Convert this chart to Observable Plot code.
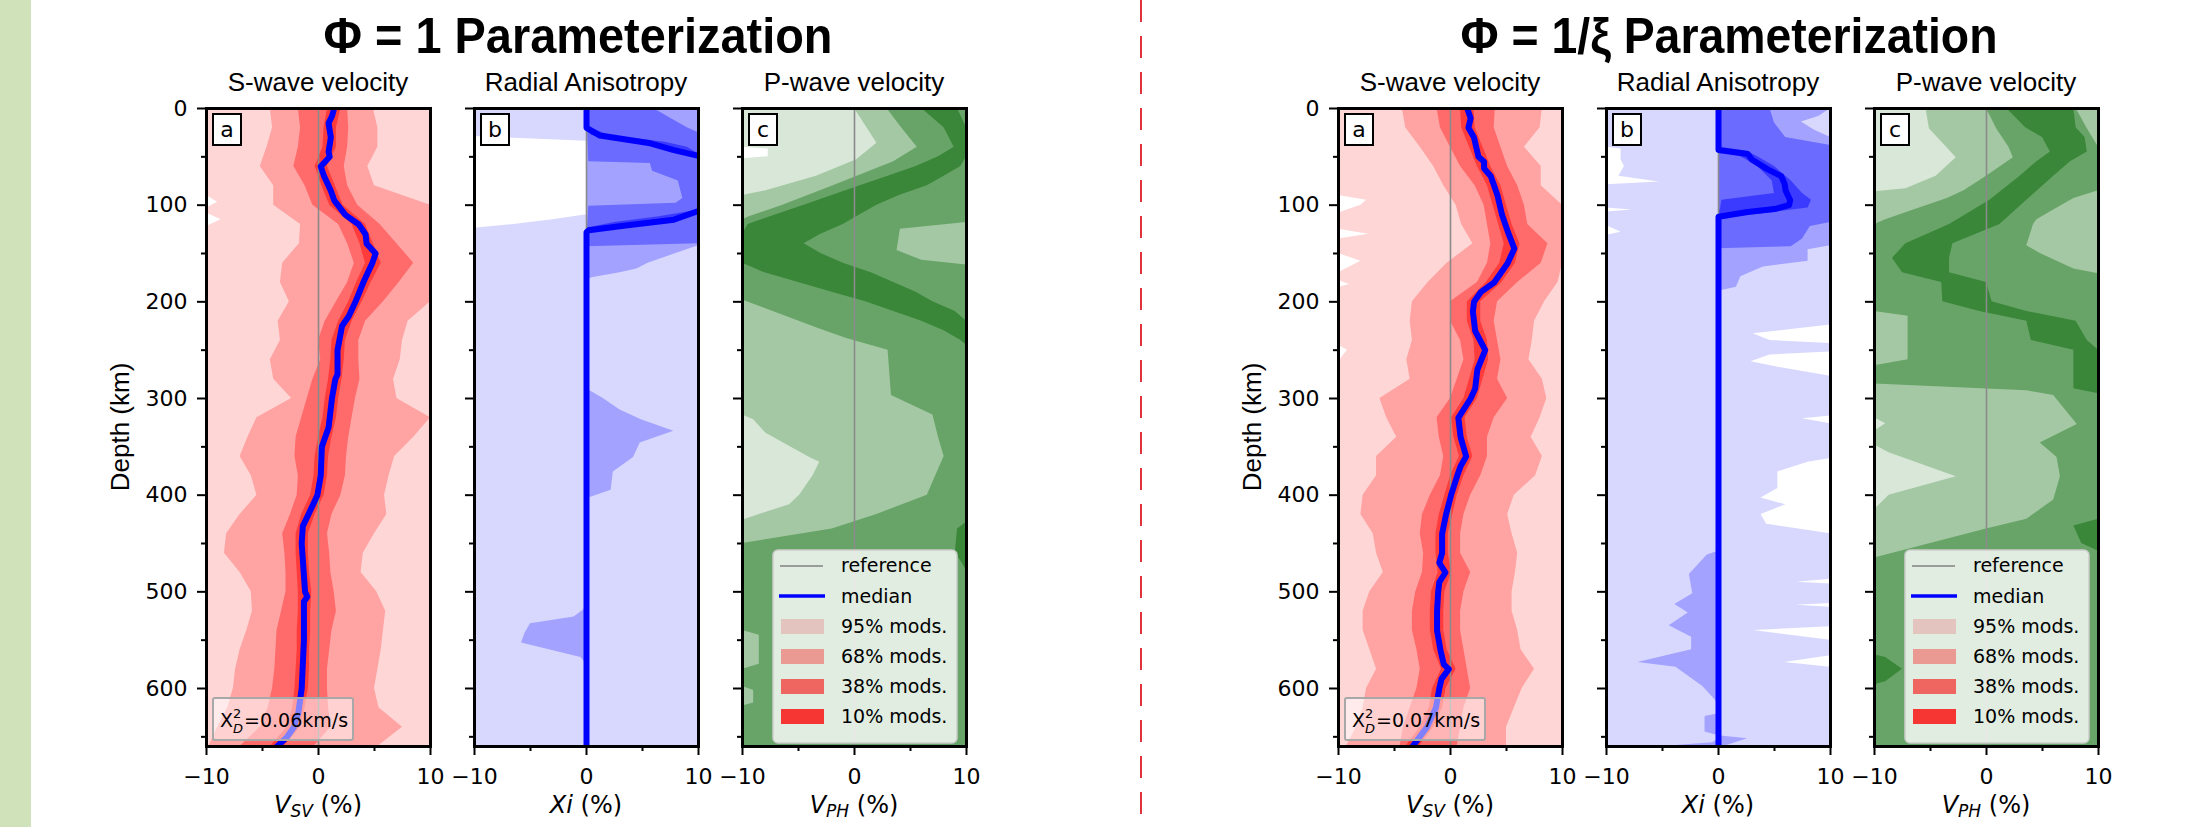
<!DOCTYPE html>
<html>
<head>
<meta charset="utf-8">
<script src="https://cdn.jsdelivr.net/npm/d3@7"></script>
<script src="https://cdn.jsdelivr.net/npm/@observablehq/plot@0.6"></script>
<style>
html, body { margin: 0; padding: 0; background: #fff; }
#page { position: relative; width: 2203px; height: 827px; overflow: hidden; background: #fff; }
#page svg { position: absolute; }
</style>
</head>
<body>
<div id="page"></div>
<script>
// ---------------- DATA ----------------
const depthV = [0,20,40,60,80,100,120,140,160,180,200,220,240,260,280,300,320,340,360,380,400,420,440,460,480,500,520,540,560,580,600,620,640,660];

// Phi = 1 : S-wave velocity (%)
const sv1Median = [[0,1.4],[8,1.2],[15,0.9],[30,1.1],[45,0.9],[50,1.0],[60,0.2],[70,0.5],[85,1.1],[95,1.4],[110,2.4],[120,3.6],[130,4.2],[140,4.3],[150,5.1],[160,4.8],[170,4.4],[180,4.0],[200,3.3],[215,2.7],[225,2.1],[250,1.7],[275,1.7],[280,1.5],[300,1.2],[330,0.9],[350,0.3],[380,0.2],[400,-0.1],[420,-0.9],[432,-1.4],[450,-1.5],[500,-1.2],[505,-1.0],[510,-1.3],[550,-1.3],[600,-1.5],[625,-1.8],[640,-2.2],[650,-2.8],[660,-3.7]];
const sv1Band95 = [[0,-10,10],[90,-10,10],[97,-9.0,10],[103,-10,10],[108,-10,10],[115,-8.7,10],[122,-10,10],[660,-10,10]];
const sv1Lo68 = [-4.3,-4.1,-4.6,-5.2,-4.0,-4.0,-1.6,-1.7,-3.2,-3.4,-2.6,-3.6,-3.4,-4.3,-4.0,-2.4,-5.5,-6.3,-7.0,-6.0,-5.5,-7.0,-8.2,-8.4,-7.0,-6.0,-5.9,-6.4,-7.0,-7.4,-7.6,-8.1,-9.0,-9.8];
const sv1Hi68 = [4.9,5.3,5.3,4.4,5.0,10,10,10,10,10,10,8.0,7.5,7.3,6.7,7.0,10,8.5,6.8,6.3,5.9,6.1,5.0,4.0,3.8,5.2,6.0,5.8,5.6,5.3,5.0,5.4,7.5,5.3];
const sv1Lo38 = [-1.8,-1.6,-1.8,-2.2,-1.2,-0.5,1.8,2.6,3.2,2.6,1.6,0.6,0.0,0.2,-0.5,-1.0,-1.5,-2.0,-2.1,-1.8,-1.9,-2.5,-3.2,-3.0,-2.9,-2.9,-3.3,-3.7,-3.8,-3.9,-4.1,-4.5,-5.2,-7.0];
const sv1Hi38 = [2.6,2.7,2.6,2.3,2.6,3.5,5.5,7.0,8.5,7.2,5.8,4.2,3.6,3.6,3.7,3.3,3.0,2.7,2.5,2.4,2.0,1.2,0.8,1.0,1.1,1.4,1.6,1.2,1.0,0.8,0.8,0.9,1.1,-0.4];
const sv1Lo10 = [0.8,0.5,0.4,-0.3,0.3,1.0,3.0,3.7,4.2,3.4,2.7,1.8,1.2,1.1,0.9,0.6,0.4,0.0,-0.3,-0.4,-0.7,-1.5,-2.0,-2.0,-1.9,-1.8,-1.8,-1.9,-1.9,-2.0,-2.1,-2.3,-2.8,-4.3];
const sv1Hi10 = [2.0,1.6,1.6,0.8,1.5,2.2,4.2,4.9,5.6,4.7,3.9,3.0,2.4,2.3,2.1,1.8,1.6,1.2,0.9,0.8,0.5,-0.3,-0.9,-0.9,-0.8,-0.6,-0.7,-0.7,-0.8,-0.8,-0.9,-1.2,-1.6,-3.1];

// Phi = 1 : radial anisotropy Xi (%)  [depth, lo, hi]
const xi1Median = [[0,0],[20,0],[28,1.2],[36,5.7],[43,7.8],[49,10],[52,11],[103,11],[106,10],[115,7.8],[121,3.5],[126,0.2],[128,0],[660,0]];
const xi1Band95 = [[0,-10,10],[29,-10,10],[34,0,10],[110,0,10],[115,-3,10],[120,-6.5,10],[124,-10,10],[660,-10,10]];
const xi1Band68 = [[0,0,10],[142,0,10],[150,0,8],[160,0,5.5],[166,0,4.5],[170,0,3],[175,0,0.5],[178,0,0],[290,0,0],[300,0,1.5],[312,0,3.0],[322,0,4.9],[334,0,7.8],[346,0,4.8],[361,0,4.2],[376,0,2.4],[395,0,2.2],[403,0,0.2],[405,0,0],[515,0,0],[519,-0.3,0],[526,-1.1,0],[533,-5.0,0],[543,-5.5,0],[553,-5.8,0],[568,-0.5,0],[575,0,0],[660,0,0]];
const xi1Band38 = [[0,0,6],[10,0,7.5],[20,0,9],[25,0.1,10],[55,0.2,10],[57,5.7,10],[65,5.9,10],[75,8.2,10],[93,8.6,10],[98,8.0,10],[101,0.2,10],[140,0,10],[143,0,0],[660,0,0]];
const xi1Band10 = [[18,0,0],[22,0,0.8],[28,0.5,2.0],[35,4.5,7.0],[40,6.5,9.0],[47,9,10],[50,10,10],[105,10,10],[108,8.5,10],[112,6.5,9],[118,2.5,5.5],[124,0,1.5],[127,0,0]];

// Phi = 1 : P-wave velocity (%)
const vp1Band95 = [[0,-10,10],[40,-10,10],[42,-7.7,10],[50,-7.7,10],[52,-10,10],[660,-10,10]];
const vp1Band68 = [[0,0,10],[36,2.0,10],[53,0.2,10],[70,-3.4,10],[85,-7.9,10],[90,-10,10],[317,-10,10],[322,-9,10],[336,-7.9,10],[361,-4,10],[366,-3.1,10],[380,-3.7,10],[400,-4.9,10],[410,-5.8,10],[420,-8.5,10],[426,-10,10],[660,-10,10]];
const vp1Band38 = [[0,2.9,10],[20,4.2,10],[40,5.6,10],[55,3.5,10],[80,-1.9,10],[100,-6.4,10],[112,-9.4,10],[115,-10,10],[118,-10,10],[125,-10,4.1],[147,-10,3.8],[157,-10,6],[162,-10,10],[198,-10,10],[228,-3.1,10],[238,-0.7,10],[250,3.0,10],[297,3.3,10],[317,7.0,10],[340,7.5,10],[360,8.0,10],[400,6.5,10],[420,2.0,10],[435,-2,10],[450,-10,10],[540,-10,10],[545,-8.5,10],[575,-8.5,10],[580,-10,10],[598,-10,10],[602,-9,10],[615,-9,10],[618,-10,10],[660,-10,10]];
const vp1Band10 = [[0,6.0,9.2],[20,8.0,10],[40,8.9,10],[50,7.5,10],[60,5.5,9.5],[70,3.0,8.0],[80,0.5,6.5],[90,-2.0,4.0],[100,-4.5,2.0],[110,-7.0,0.5],[120,-9.5,-1.0],[130,-10,-3.0],[140,-10,-4.5],[150,-10,-3.0],[160,-10,-1.0],[170,-8,1.5],[180,-5,3.5],[190,-2,5.5],[200,1,7],[210,3.5,9],[220,6,10],[230,8,10],[240,9.5,10],[245,10,10],[428,10,10],[435,9.2,10],[460,9.0,10],[470,9.6,10],[478,10,10]];

// Phi = 1/xi : S-wave velocity (%)
const sv2Median = [[0,1.5],[10,1.8],[20,1.6],[30,2.1],[50,2.5],[55,3.0],[62,3.0],[70,3.6],[90,4.2],[110,4.6],[130,5.2],[145,5.7],[160,5.1],[180,3.9],[190,2.7],[200,2.1],[210,2.0],[230,2.2],[250,3.1],[270,2.4],[290,2.2],[300,1.8],[320,0.7],[340,0.9],[360,1.4],[370,0.9],[380,0.6],[400,0.05],[420,-0.4],[440,-0.75],[460,-0.75],[470,-1.0],[480,-0.45],[490,-1.0],[500,-1.1],[520,-1.2],[540,-1.2],[560,-0.9],[575,-0.6],[580,-0.15],[590,-0.8],[600,-1.0],[620,-1.3],[640,-2.1],[660,-3.4]];
const sv2Band95 = [[0,-10,10],[90,-10,10],[95,-7.5,10],[100,-8.0,10],[108,-10,10],[125,-10,10],[130,-7.3,10],[135,-10,10],[150,-10,10],[158,-8.0,10],[170,-10,10],[178,-10,10],[182,-9.0,10],[185,-10,10],[245,-10,10],[250,-9.2,10],[262,-10,10],[660,-10,10]];
const sv2Lo68 = [-4.3,-4.0,-2.7,-1.5,-0.6,0.5,1.0,2.0,-0.3,-2.0,-3.4,-3.6,-3.4,-3.9,-3.6,-6.3,-5.7,-4.8,-6.6,-6.6,-7.8,-8.0,-6.9,-6.6,-6.0,-7.2,-7.8,-7.8,-7.2,-6.6,-7.5,-7.8,-8.4,-9.3];
const sv2Hi68 = [8.2,8.0,6.6,8.1,8.1,10,10,10,10,9.6,8.4,7.5,7.3,7.0,8.2,8.6,8.0,7.2,8.2,7.6,5.7,5.1,5.5,6.0,5.8,5.5,5.5,6.0,6.3,7.5,6.4,5.7,5.0,5.0];
const sv2Lo38 = [-1.2,-0.9,0.0,0.9,2.2,3.0,3.3,3.6,3.3,2.4,0.0,0.0,0.9,1.2,0.6,0.0,-1.2,-1.0,-0.6,-0.9,-1.8,-2.5,-2.7,-2.4,-2.5,-3.1,-3.4,-3.4,-3.0,-2.7,-3.0,-3.6,-4.2,-4.5];
const sv2Hi38 = [4.0,3.9,4.5,5.1,6.0,6.6,6.9,8.7,8.1,6.0,4.2,3.9,4.2,4.5,4.2,5.1,3.9,3.3,3.3,2.7,1.8,1.2,0.9,0.9,1.8,1.2,0.9,0.9,1.2,1.5,1.8,1.2,0.9,0.6];
const sv2Lo10 = [0.9,1.0,1.7,2.4,3.3,3.8,4.3,4.8,4.4,3.2,1.5,1.5,2.1,2.2,1.7,1.2,0.1,0.3,0.8,0.0,-0.5,-1.0,-1.3,-1.3,-1.1,-1.7,-1.8,-1.8,-1.5,-0.8,-1.6,-1.9,-2.7,-4.0];
const sv2Hi10 = [2.1,2.2,2.9,3.6,4.5,5.0,5.5,6.2,5.8,4.6,2.7,2.7,3.3,3.4,2.9,2.4,1.3,1.5,2.0,1.2,0.6,0.2,-0.2,-0.2,0.1,-0.5,-0.6,-0.6,-0.3,0.5,-0.4,-0.7,-1.5,-2.8];

// Phi = 1/xi : radial anisotropy Xi (%)
const xi2Median = [[0,0],[43,0],[47,2.6],[53,3.0],[63,4.4],[70,5.6],[78,5.9],[85,6.0],[95,6.4],[100,6.3],[104,5.0],[107,2.6],[112,0],[660,0]];
const xi2Band95 = [[0,-10,10],[40,-10,10],[42,-8.7,10],[53,-8.7,10],[60,-8.4,10],[70,-8.9,10],[76,-5.3,10],[79,-10,10],[103,-10,10],[105,-7.7,10],[107,-10,10],[121,-10,10],[128,-8.7,10],[131,-10,10],[224,-10,10],[233,-10,3.1],[240,-10,4.6],[243,-10,10],[252,-10,10],[255,-10,4.6],[262,-10,2.9],[267,-10,5.0],[277,-10,10],[318,-10,10],[321,-10,7.5],[326,-10,10],[362,-10,10],[366,-10,8.0],[376,-10,5.3],[393,-10,5.3],[403,-10,3.8],[410,-10,6.0],[420,-10,3.8],[430,-10,4.3],[440,-10,10],[487,-10,10],[490,-10,7.0],[492,-10,10],[512,-10,10],[514,-10,6.9],[516,-10,10],[536,-10,10],[540,-10,3.1],[550,-10,10],[566,-10,10],[573,-10,5.9],[578,-10,10],[660,-10,10]];
const xi2Band68 = [[0,0,10],[8,0,9],[14,0,7.4],[22,0,8.5],[30,0,10],[142,0,10],[146,0,8],[158,0,8],[164,0,4],[174,0,2],[185,0,1.6],[189,0,0],[458,0,0],[462,-1.0,0],[482,-2.6,0],[502,-2.3,0],[513,-3.9,0],[522,-2.7,0],[535,-4.4,0],[547,-2.4,0],[560,-2.4,0],[573,-7.2,0],[578,-3.8,0],[598,-1.4,0],[612,-0.3,0],[617,0,0],[626,0,0],[629,-1.2,0],[645,-1.2,0],[649,0,0],[652,0,2.6],[656,-0.5,1.5],[660,-5,0.5]];
const xi2Band38 = [[0,0,4.6],[15,0,5.0],[30,0,6.0],[38,0,9.9],[40,0,10],[118,0,10],[122,0,8.2],[135,0,7.5],[143,0,6.5],[145,0,0],[660,0,0]];
const xi2Band10 = [[40,0,0],[44,0,2.5],[50,2.0,3.5],[60,3.5,5.0],[75,4.8,6.5],[88,5.0,7.5],[95,0.3,8.3],[103,0.2,8.0],[108,0,4.5],[113,0,0.5],[115,0,0]];

// Phi = 1/xi : P-wave velocity (%)
const vp2Band95 = [[0,-10,10],[660,-10,10]];
const vp2Band68 = [[0,-5.4,10],[21,-5.1,10],[51,-2.7,10],[70,-4.5,10],[83,-7.2,10],[86,-10,10],[320,-10,10],[326,-9,10],[334,-10,10],[348,-10,10],[356,-8.7,10],[381,-2.7,10],[400,-8.7,10],[415,-10,10],[660,-10,10]];
const vp2Band38 = [[0,0,8.0],[21,0.9,9.0],[40,2.0,10],[51,2.4,10],[70,0,10],[85,-2.0,10],[93,-3.5,7.8],[105,-6.5,6.0],[115,-9,4.5],[120,-10,4.2],[142,-10,3.6],[150,-10,4.8],[166,-10,7.8],[171,-10,10],[210,-10,10],[215,-7,10],[260,-7,10],[266,-10,10],[285,-10,10],[292,3.6,10],[297,6,10],[327,8.1,10],[346,4.8,10],[361,6.3,10],[381,6.6,10],[405,6.0,10],[425,3.6,10],[435,0,10],[465,-10,10],[660,-10,10]];
const vp2Band10 = [[0,1.8,7.8],[20,3.5,8.0],[30,5.0,8.8],[45,5.7,9.0],[55,4.5,7.5],[70,3.0,6.0],[95,0.3,3.6],[120,-3.3,1.2],[140,-7.2,-3.0],[155,-8.4,-3.3],[170,-7.5,-3.3],[180,-4.0,0],[200,-3.9,0.5],[210,-0.6,3.6],[220,3.6,8.0],[240,4.0,9.0],[250,7.8,10],[290,7.8,10],[295,10,10],[425,10,10],[432,7.8,10],[450,8.5,10],[458,10,10],[565,-10,-10],[568,-10,-9],[580,-10,-7.5],[593,-10,-9],[596,-10,-10],[660,-10,-10]];

// colours of the 95 / 68 / 38 / 10 % bands
const RED = ["#ffd6d6", "#ffa3a3", "#ff6b6b", "#ff3b3b"];
const BLUE = ["#d8d8ff", "#a3a3ff", "#6b6bff", "#3b3bff"];
const GREEN = ["#d9e7d9", "#a4c8a4", "#68a468", "#3a873a"];
const LEGEND_SWATCH = ["#e4c4be", "#ea9a93", "#ef6560", "#f53633"];
const LEGEND_LABELS = ["95% mods.", "68% mods.", "38% mods.", "10% mods."];

// ---------------- LAYOUT ----------------
const page = document.getElementById("page");
const TOP = 108, FW = 224, FH = 638;
const HALF = 1132;
const PX = [206, 474, 742];

const tri = (lo, hi) => depthV.map((d, i) => [d, lo[i], hi[i]]);
const fmt = d => d < 0 ? "\u2212" + (-d) : String(d);

function panel(x0, layers, median, showY) {
  const ml = 80, mr = 24, mt = 8, mb = 52;
  const marks = [];
  for (const [data, fill] of layers) {
    marks.push(Plot.areaX(data, {y: d => d[0], x1: d => d[1], x2: d => d[2], fill, clip: true}));
  }
  marks.push(Plot.ruleX([0], {stroke: "#8a8a8a", strokeWidth: 1.6, clip: true}));
  if (median) marks.push(Plot.lineX(median, {x: d => d[1], y: d => d[0], stroke: "#0000ff", strokeWidth: 6, clip: true}));
  marks.push(Plot.axisX({ticks: [-10, 0, 10], tickSize: 9, tickPadding: 13, strokeWidth: 2, fontSize: 22, label: null, tickFormat: fmt}));
  marks.push(Plot.axisX({ticks: [-5, 5], tickSize: 5, strokeWidth: 2, label: null, tickFormat: () => ""}));
  marks.push(Plot.axisY({ticks: d3.range(0, 601, 100), tickSize: 9, tickPadding: 10, strokeWidth: 2, fontSize: 22, label: null, tickFormat: showY ? (d => String(d)) : (() => "")}));
  marks.push(Plot.axisY({ticks: d3.range(50, 651, 100), tickSize: 5, strokeWidth: 2, label: null, tickFormat: () => ""}));
  marks.push(Plot.frame({stroke: "#000", strokeWidth: 3}));
  const svg = Plot.plot({
    width: FW + ml + mr, height: FH + mt + mb,
    marginLeft: ml, marginRight: mr, marginTop: mt, marginBottom: mb,
    x: {domain: [-10, 10]},
    y: {domain: [0, 660], reverse: true},
    style: {fontFamily: "DejaVu Sans", fontSize: "22px", background: "transparent", overflow: "visible", color: "#000"},
    marks
  });
  svg.style.position = "absolute";
  svg.style.left = (x0 - ml) + "px";
  svg.style.top = (TOP - mt) + "px";
  page.appendChild(svg);
}

function bandsV(b95, lo68, hi68, lo38, hi38, lo10, hi10, C) {
  return [[b95, C[0]], [tri(lo68, hi68), C[1]], [tri(lo38, hi38), C[2]], [tri(lo10, hi10), C[3]]];
}

// background decorations
const strip = document.createElement("div");
Object.assign(strip.style, {position: "absolute", left: "0px", top: "0px", width: "31px", height: "827px", background: "#d0e2b9"});
page.appendChild(strip);

// left half (Phi = 1)
panel(PX[0], bandsV(sv1Band95, sv1Lo68, sv1Hi68, sv1Lo38, sv1Hi38, sv1Lo10, sv1Hi10, RED), sv1Median, true);
panel(PX[1], [[xi1Band95, BLUE[0]], [xi1Band68, BLUE[1]], [xi1Band38, BLUE[2]], [xi1Band10, BLUE[3]]], xi1Median, false);
panel(PX[2], [[vp1Band95, GREEN[0]], [vp1Band68, GREEN[1]], [vp1Band38, GREEN[2]], [vp1Band10, GREEN[3]]], null, false);
// right half (Phi = 1/xi)
panel(PX[0] + HALF, bandsV(sv2Band95, sv2Lo68, sv2Hi68, sv2Lo38, sv2Hi38, sv2Lo10, sv2Hi10, RED), sv2Median, true);
panel(PX[1] + HALF, [[xi2Band95, BLUE[0]], [xi2Band68, BLUE[1]], [xi2Band38, BLUE[2]], [xi2Band10, BLUE[3]]], xi2Median, false);
panel(PX[2] + HALF, [[vp2Band95, GREEN[0]], [vp2Band68, GREEN[1]], [vp2Band38, GREEN[2]], [vp2Band10, GREEN[3]]], null, false);

// ---------------- TEXT OVERLAY ----------------
function half(ox, title, titleX, titleW, chi) {
  const p = PX.map(v => v + ox);
  const subs = ["S-wave velocity", "Radial Anisotropy", "P-wave velocity"];
  const letters = ["a", "b", "c"];
  const xl = [
    `<tspan font-style="italic">V</tspan><tspan font-style="italic" font-size="17" dy="4">SV</tspan><tspan dy="-4"> (%)</tspan>`,
    `<tspan font-style="italic">Xi</tspan><tspan> (%)</tspan>`,
    `<tspan font-style="italic">V</tspan><tspan font-style="italic" font-size="17" dy="4">PH</tspan><tspan dy="-4"> (%)</tspan>`
  ];
  let s = `<text x="${titleX}" y="53" text-anchor="middle" font-family="Liberation Sans" font-weight="bold" font-size="50" textLength="${titleW}" lengthAdjust="spacingAndGlyphs">${title}</text>`;
  s += `<text transform="translate(${129 + ox},427) rotate(-90)" text-anchor="middle" font-family="Liberation Sans" font-size="26">Depth (km)</text>`;
  p.forEach((x, i) => {
    s += `<text x="${x + 112}" y="91" text-anchor="middle" font-family="Liberation Sans" font-size="26">${subs[i]}</text>`;
    s += `<text x="${x + 112}" y="813" text-anchor="middle" font-family="DejaVu Sans" font-size="24">${xl[i]}</text>`;
    s += `<rect x="${x + 7}" y="114" width="28" height="31" fill="#fff" stroke="#000" stroke-width="2"/>`;
    s += `<text x="${x + 21}" y="137" text-anchor="middle" font-family="DejaVu Sans" font-size="22">${letters[i]}</text>`;
  });
  // chi box
  const a = p[0];
  s += `<rect x="${a + 7}" y="698" width="140" height="42" rx="2" fill="#fff" fill-opacity="0.5" stroke="#a8a8a8" stroke-width="2"/>`;
  s += `<text x="${a + 14}" y="727" font-family="DejaVu Sans" font-size="19">X</text>`;
  s += `<text x="${a + 27}" y="718" font-family="DejaVu Sans" font-size="13">2</text>`;
  s += `<text x="${a + 27}" y="733" font-family="DejaVu Sans" font-size="13" font-style="italic">D</text>`;
  s += `<text x="${a + 38}" y="727" font-family="DejaVu Sans" font-size="19">=${chi}km/s</text>`;
  // legend
  const c = p[2];
  s += `<rect x="${c + 31}" y="550" width="184" height="193" rx="5" fill="#fff" fill-opacity="0.8" stroke="#cccccc" stroke-width="1.5"/>`;
  s += `<line x1="${c + 38}" x2="${c + 81}" y1="566" y2="566" stroke="#808080" stroke-width="1.5"/>`;
  s += `<text x="${c + 99}" y="572" font-family="DejaVu Sans" font-size="19">reference</text>`;
  s += `<line x1="${c + 37}" x2="${c + 83}" y1="596" y2="596" stroke="#0000ff" stroke-width="3.5"/>`;
  s += `<text x="${c + 99}" y="603" font-family="DejaVu Sans" font-size="19">median</text>`;
  LEGEND_LABELS.forEach((lab, i) => {
    const y = 619 + 30 * i;
    s += `<rect x="${c + 39}" y="${y}" width="43" height="15" fill="${LEGEND_SWATCH[i]}"/>`;
    s += `<text x="${c + 99}" y="${y + 14}" font-family="DejaVu Sans" font-size="19">${lab}</text>`;
  });
  return s;
}

const overlay = `<svg xmlns="http://www.w3.org/2000/svg" width="2203" height="827" style="position:absolute;left:0;top:0;pointer-events:none">
<line x1="1141" x2="1141" y1="0" y2="827" stroke="#e0343c" stroke-width="2" stroke-dasharray="22 14"/>
${half(0, "\u03A6 = 1 Parameterization", 578, 509, "0.06")}
${half(HALF, "\u03A6 = 1/\u03BE Parameterization", 1729, 537, "0.07")}
</svg>`;
page.insertAdjacentHTML("beforeend", overlay);
</script>
</body>
</html>
